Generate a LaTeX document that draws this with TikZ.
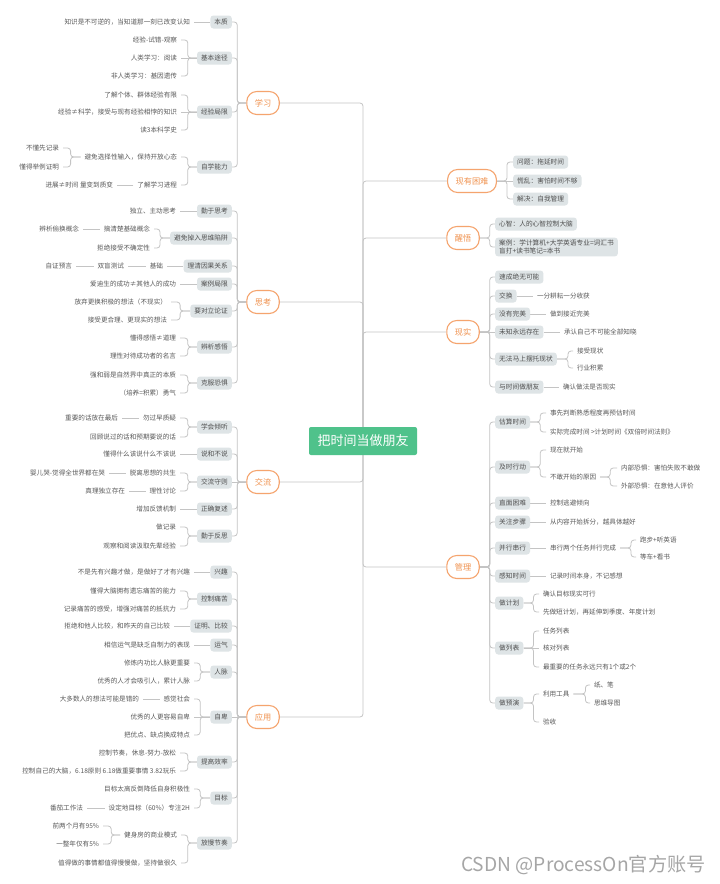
\documentclass[tikz,border=0pt]{standalone}
\usepackage{fontspec}
\setmainfont{Noto Sans CJK SC}
\usetikzlibrary{backgrounds}
\definecolor{orB}{HTML}{F5A46E}
\definecolor{orT}{HTML}{F0924F}
\definecolor{gfill}{HTML}{DEE4E6}
\definecolor{gtext}{HTML}{4F4F4F}
\definecolor{ltext}{HTML}{595959}
\definecolor{lgray}{HTML}{C4C4C4}
\definecolor{rootg}{HTML}{4FC28B}
\definecolor{wmark}{HTML}{A6A6A6}
\newcommand\BrL[3][10]{\draw[conn] (#2.west) -- ++(-#1,0) |- (#3.east);}
\newcommand\BrR[3][10]{\draw[conn] (#2.east) -- ++(#1,0) |- (#3.west);}
\newcommand\StL[2]{\draw[conn] (#1.west) -- (#2.east);}
\newcommand\StR[2]{\draw[conn] (#1.east) -- (#2.west);}
\newcommand\RtL[1]{\draw[conn] (root.center) |- (#1.east);}
\newcommand\RtR[1]{\draw[conn] (root.center) |- (#1.west);}
\begin{document}
\begin{tikzpicture}[x=1pt,y=-1pt,
 rootn/.style={fill=rootg, text=white, rounded corners=2pt, minimum width=108pt, minimum height=28pt, inner sep=0pt, font=\fontsize{13}{15}\selectfont},
 mainb/.style={draw=orB, line width=1.1pt, fill=white, text=orT, rounded corners=10pt, minimum height=23pt, inner xsep=8pt, inner ysep=0pt, font=\fontsize{8.2}{10}\selectfont},
 sub/.style={fill=gfill, text=gtext, rounded corners=3pt, minimum height=13pt, inner xsep=4pt, inner ysep=0pt, font=\fontsize{6.7}{8.5}\selectfont},
 subL/.style={sub, anchor=east},
 subR/.style={sub, anchor=west},
 leaf/.style={text=ltext, inner xsep=0pt, inner ysep=1pt, outer xsep=4pt, outer ysep=0pt, font=\fontsize{6.6}{8}\selectfont},
 leafL/.style={leaf, anchor=east},
 leafR/.style={leaf, anchor=west},
 conn/.style={draw=lgray, line width=0.8pt, rounded corners=3pt}]
\useasboundingbox (0,0) rectangle (720,884);

\node[rootn] (root) at (363,441) {把时间当做朋友};

% ===== 学习 =====
\node[mainb] (xx) at (263,103) {学习};
\node[subL] (xx1) at (232,22) {本质};
\node[leafL] (xx1a) at (194,22) {知识是不可逆的，当知道那一刻已改变认知};
\node[subL] (xx2) at (232,58) {基本途径};
\node[leafL] (xx2a) at (181,40) {经验-试错-观察};
\node[leafL] (xx2b) at (181,58) {人类学习：阅读};
\node[leafL] (xx2c) at (181,76) {非人类学习：基因遗传};
\node[subL] (xx3) at (232,112) {经验局限};
\node[leafL] (xx3a) at (181,95) {了解个体、群体经验有限};
\node[leafL] (xx3b) at (181,112) {经验≠科学，接受与现有经验相悖的知识};
\node[leafL] (xx3c) at (181,130) {读3本科学史};
\node[subL] (xx4) at (232,167) {自学能力};
\node[leafL] (xx4a) at (181,157) {避免选择性输入，保持开放心态};
\node[leafL] (xx4b) at (181,185) {了解学习进程};
\node[leafL] (xx4a1) at (63,148) {不懂先记录};
\node[leafL] (xx4a2) at (63,167) {懂得举例证明};
\node[leafL] (xx4b1) at (117,185) {进展≠时间 量变到质变};

% ===== 思考 =====
\node[mainb] (sk) at (263,302) {思考};
\node[subL] (sk1) at (232,211) {勤于思考};
\node[leafL] (sk1a) at (180,211) {独立、主动思考};
\node[subL] (sk2) at (232,238) {避免掉入思维陷阱};
\node[leafL] (sk2a) at (154,229) {搞清楚基础概念};
\node[leafL] (sk2b) at (154,248) {拒绝接受不确定性};
\node[leafL] (sk2a1) at (83,229) {辨析偷换概念};
\node[subL] (sk3) at (232,266) {理清因果关系};
\node[leafL] (sk3a) at (167,266) {基础};
\node[leafL] (sk3b) at (128,266) {双盲测试};
\node[leafL] (sk3c) at (76,266) {自证预言};
\node[subL] (sk4) at (232,284) {案例局限};
\node[leafL] (sk4a) at (180,284) {爱迪生的成功≠其他人的成功};
\node[subL] (sk5) at (232,311) {要对立论证};
\node[leafL] (sk5a) at (171,302) {放弃更换积极的想法（不现实）};
\node[leafL] (sk5b) at (171,320) {接受更合理、更现实的想法};
\node[subL] (sk6) at (232,347) {辨析感悟};
\node[leafL] (sk6a) at (180,338) {懂得感悟≠道理};
\node[leafL] (sk6b) at (180,356) {理性对待成功者的名言};
\node[subL] (sk7) at (232,383) {克服恐惧};
\node[leafL] (sk7a) at (180,375) {强和弱是自然界中真正的本质};
\node[leafL] (sk7b) at (180,393) {（培养=积累）勇气};

% ===== 交流 =====
\node[mainb] (jl) at (263,482) {交流};
\node[subL] (jl1) at (232,427) {学会倾听};
\node[leafL] (jl1a) at (180,418) {勿过早质疑};
\node[leafL] (jl1b) at (180,437) {回顾说过的话和预期要说的话};
\node[leafL] (jl1a1) at (122,418) {重要的话放在最后};
\node[subL] (jl2) at (232,454) {说和不说};
\node[leafL] (jl2a) at (180,454) {懂得什么该说什么不该说};
\node[subL] (jl3) at (232,482) {交流守则};
\node[leafL] (jl3a) at (180,473) {脱离思想的共生};
\node[leafL] (jl3b) at (180,491) {理性讨论};
\node[leafL] (jl3a1) at (109,473) {婴儿哭-觉得全世界都在哭};
\node[leafL] (jl3b1) at (129,491) {真理独立存在};
\node[subL] (jl4) at (232,509) {正确复述};
\node[leafL] (jl4a) at (180,509) {增加反馈机制};
\node[subL] (jl5) at (232,536) {勤于反思};
\node[leafL] (jl5a) at (180,527) {做记录};
\node[leafL] (jl5b) at (180,546) {观察和阅读汲取先辈经验};

% ===== 应用 =====
\node[mainb] (yy) at (263,717) {应用};
\node[subL] (yy1) at (232,572) {兴趣};
\node[leafL] (yy1a) at (194,572) {不是先有兴趣才做，是做好了才有兴趣};
\node[subL] (yy2) at (232,599) {控制痛苦};
\node[leafL] (yy2a) at (180,591) {懂得大脑拥有遗忘痛苦的能力};
\node[leafL] (yy2b) at (180,609) {记录痛苦的感受，增强对痛苦的抵抗力};
\node[subL] (yy3) at (232,626) {证明、比较};
\node[leafL] (yy3a) at (174,626) {拒绝和他人比较，和昨天的自己比较};
\node[subL] (yy4) at (232,645) {运气};
\node[leafL] (yy4a) at (194,645) {相信运气是缺乏自制力的表现};
\node[subL] (yy5) at (232,672) {人脉};
\node[leafL] (yy5a) at (194,663) {修炼内功比人脉更重要};
\node[leafL] (yy5b) at (194,681) {优秀的人才会吸引人，累计人脉};
\node[subL] (yy6) at (232,717) {自卑};
\node[leafL] (yy6a) at (194,699) {感觉社会};
\node[leafL] (yy6b) at (194,717) {优秀的人更容易自卑};
\node[leafL] (yy6c) at (194,735) {把优点、缺点换成特点};
\node[leafL] (yy6a1) at (143,699) {大多数人的想法可能是错的};
\node[subL] (yy7) at (232,762) {提高效率};
\node[leafL] (yy7a) at (180,753) {控制节奏，休息-努力-放松};
\node[leafL] (yy7b) at (180,771) {控制自己的大脑，6.18原则 6.18做重要事情 3.82玩乐};
\node[subL] (yy8) at (232,798) {目标};
\node[leafL] (yy8a) at (194,789) {目标太高反倒降低自身积极性};
\node[leafL] (yy8b) at (194,808) {设定地目标（60\%）专注2H};
\node[leafL] (yy8b1) at (87,808) {番茄工作法};
\node[subL] (yy9) at (232,843) {放慢节奏};
\node[leafL] (yy9a) at (181,835) {健身房的商业模式};
\node[leafL] (yy9b) at (181,863) {值得做的事情都值得慢慢做，坚持做很久};
\node[leafL] (yy9a1) at (103,826) {前两个月有95\%};
\node[leafL] (yy9a2) at (103,844) {一整年仅有5\%};

% ===== 现有困难 =====
\node[mainb] (xk) at (472,181) {现有困难};
\node[subR] (xk1) at (513,162) {问题：拖延时间};
\node[subR] (xk2) at (513,181) {慌乱：害怕时间不够};
\node[subR] (xk3) at (513,199) {解决：自我管理};

% ===== 醒悟 =====
\node[mainb] (xw) at (463,238) {醒悟};
\node[subR] (xw1) at (495,224) {心智：人的心智控制大脑};
\node[subR, align=left, inner ysep=2pt] (xw2) at (495,247) {案例：学计算机+大学英语专业=词汇书\\盲打+读书笔记=本书};

% ===== 现实 =====
\node[mainb] (xs) at (463,332) {现实};
\node[subR] (xs1) at (495,277) {速成绝无可能};
\node[subR] (xs2) at (495,296) {交换};
\node[leafR] (xs2a) at (533,296) {一分耕耘一分收获};
\node[subR] (xs3) at (495,314) {没有完美};
\node[leafR] (xs3a) at (546,314) {做到接近完美};
\node[subR] (xs4) at (495,332) {未知永远存在};
\node[leafR] (xs4a) at (560,332) {承认自己不可能全部知晓};
\node[subR] (xs5) at (495,359) {无法马上摆托现状};
\node[leafR] (xs5a) at (573,351) {接受现状};
\node[leafR] (xs5b) at (573,368) {行业积累};
\node[subR] (xs6) at (495,387) {与时间做朋友};
\node[leafR] (xs6a) at (559,387) {确认做法是否现实};

% ===== 管理 =====
\node[mainb] (gl) at (463,567) {管理};
\node[subR] (gl1) at (495,422) {估算时间};
\node[leafR] (gl1a) at (546,413) {事先判断熟悉程度再预估时间};
\node[leafR] (gl1b) at (546,432) {实际完成时间 >计划时间《双倍时间法则》};
\node[subR] (gl2) at (495,467) {及时行动};
\node[leafR] (gl2a) at (546,450) {现在就开始};
\node[leafR] (gl2b) at (546,477) {不敢开始的原因};
\node[leafR] (gl2b1) at (617,468) {内部恐惧：害怕失败不敢做};
\node[leafR] (gl2b2) at (617,486) {外部恐惧：在意他人评价};
\node[subR] (gl3) at (495,503) {直面困难};
\node[leafR] (gl3a) at (546,503) {控制逃避倾向};
\node[subR] (gl4) at (495,522) {关注步骤};
\node[leafR] (gl4a) at (546,522) {从内容开始拆分，越具体越好};
\node[subR] (gl5) at (495,548) {并行串行};
\node[leafR] (gl5a) at (546,548) {串行两个任务并行完成};
\node[leafR] (gl5a1) at (636,540) {跑步+听英语};
\node[leafR] (gl5a2) at (636,557) {等车+看书};
\node[subR] (gl6) at (495,576) {感知时间};
\node[leafR] (gl6a) at (546,576) {记录时间本身，不记感想};
\node[subR] (gl7) at (495,603) {做计划};
\node[leafR] (gl7a) at (539,594) {确认目标现实可行};
\node[leafR] (gl7b) at (539,612) {先做短计划，再延伸到季度、年度计划};
\node[subR] (gl8) at (495,648) {做列表};
\node[leafR] (gl8a) at (539,631) {任务列表};
\node[leafR] (gl8b) at (539,648) {核对列表};
\node[leafR] (gl8c) at (539,667) {最重要的任务永远只有1个或2个};
\node[subR] (gl9) at (495,703) {做预演};
\node[leafR] (gl9a) at (539,694) {利用工具};
\node[leafR] (gl9b) at (539,722) {验收};
\node[leafR] (gl9a1) at (590,685) {纸、笔};
\node[leafR] (gl9a2) at (590,703) {思维导图};

% watermark
\node[anchor=west, text=wmark, inner sep=0pt, font=\fontsize{19.2}{21}\selectfont] (wm) at (461,865) {CSDN @ProcessOn官方账号};

\begin{scope}[on background layer]
\fill[white] (0,0) rectangle (720,884);
% root
\RtL{xx} \RtL{sk} \RtL{jl} \RtL{yy}
\RtR{xk} \RtR{xw} \RtR{xs} \RtR{gl}
% 学习
\BrL[9]{xx}{xx1} \BrL[9]{xx}{xx2} \BrL[9]{xx}{xx3} \BrL[9]{xx}{xx4}
\StL{xx1}{xx1a}
\BrL[9]{xx2}{xx2a} \StL{xx2}{xx2b} \BrL[9]{xx2}{xx2c}
\BrL[9]{xx3}{xx3a} \StL{xx3}{xx3b} \BrL[9]{xx3}{xx3c}
\BrL[9]{xx4}{xx4a} \BrL[9]{xx4}{xx4b}
\BrL{xx4a}{xx4a1} \BrL{xx4a}{xx4a2}
\StL{xx4b}{xx4b1}
% 思考
\BrL[9]{sk}{sk1} \BrL[9]{sk}{sk2} \BrL[9]{sk}{sk3} \BrL[9]{sk}{sk4}
\BrL[9]{sk}{sk5} \BrL[9]{sk}{sk6} \BrL[9]{sk}{sk7}
\StL{sk1}{sk1a}
\BrL{sk2}{sk2a} \BrL{sk2}{sk2b} \StL{sk2a}{sk2a1}
\StL{sk3}{sk3a} \StL{sk3a}{sk3b} \StL{sk3b}{sk3c}
\StL{sk4}{sk4a}
\BrL{sk5}{sk5a} \BrL{sk5}{sk5b}
\BrL[9]{sk6}{sk6a} \BrL[9]{sk6}{sk6b}
\BrL[9]{sk7}{sk7a} \BrL[9]{sk7}{sk7b}
% 交流
\BrL[9]{jl}{jl1} \BrL[9]{jl}{jl2} \StL{jl}{jl3} \BrL[9]{jl}{jl4} \BrL[9]{jl}{jl5}
\BrL[9]{jl1}{jl1a} \BrL[9]{jl1}{jl1b} \StL{jl1a}{jl1a1}
\StL{jl2}{jl2a}
\BrL[9]{jl3}{jl3a} \BrL[9]{jl3}{jl3b} \StL{jl3a}{jl3a1} \StL{jl3b}{jl3b1}
\StL{jl4}{jl4a}
\BrL[9]{jl5}{jl5a} \BrL[9]{jl5}{jl5b}
% 应用
\BrL[9]{yy}{yy1} \BrL[9]{yy}{yy2} \BrL[9]{yy}{yy3} \BrL[9]{yy}{yy4} \BrL[9]{yy}{yy5}
\StL{yy}{yy6} \BrL[9]{yy}{yy7} \BrL[9]{yy}{yy8} \BrL[9]{yy}{yy9}
\StL{yy1}{yy1a}
\BrL[9]{yy2}{yy2a} \BrL[9]{yy2}{yy2b}
\StL{yy3}{yy3a}
\StL{yy4}{yy4a}
\BrL{yy5}{yy5a} \BrL{yy5}{yy5b}
\BrL{yy6}{yy6a} \StL{yy6}{yy6b} \BrL{yy6}{yy6c} \StL{yy6a}{yy6a1}
\BrL[9]{yy7}{yy7a} \BrL[9]{yy7}{yy7b}
\BrL{yy8}{yy8a} \BrL{yy8}{yy8b} \StL{yy8b}{yy8b1}
\BrL[9]{yy9}{yy9a} \BrL[9]{yy9}{yy9b}
\BrL[9]{yy9a}{yy9a1} \BrL[9]{yy9a}{yy9a2}
% 现有困难
\BrR{xk}{xk1} \StR{xk}{xk2} \BrR{xk}{xk3}
% 醒悟
\BrR{xw}{xw1} \BrR{xw}{xw2}
% 现实
\BrR{xs}{xs1} \BrR{xs}{xs2} \BrR{xs}{xs3} \StR{xs}{xs4} \BrR{xs}{xs5} \BrR{xs}{xs6}
\StR{xs2}{xs2a} \StR{xs3}{xs3a} \StR{xs4}{xs4a}
\BrR[11]{xs5}{xs5a} \BrR[11]{xs5}{xs5b}
\StR{xs6}{xs6a}
% 管理
\BrR{gl}{gl1} \BrR{gl}{gl2} \BrR{gl}{gl3} \BrR{gl}{gl4} \BrR{gl}{gl5}
\BrR{gl}{gl6} \BrR{gl}{gl7} \BrR{gl}{gl8} \BrR{gl}{gl9}
\BrR{gl1}{gl1a} \BrR{gl1}{gl1b}
\BrR{gl2}{gl2a} \BrR{gl2}{gl2b}
\BrR{gl2b}{gl2b1} \BrR{gl2b}{gl2b2}
\StR{gl3}{gl3a} \StR{gl4}{gl4a}
\StR{gl5}{gl5a}
\BrR[11]{gl5a}{gl5a1} \BrR[11]{gl5a}{gl5a2}
\StR{gl6}{gl6a}
\BrR{gl7}{gl7a} \BrR{gl7}{gl7b}
\BrR{gl8}{gl8a} \StR{gl8}{gl8b} \BrR{gl8}{gl8c}
\BrR{gl9}{gl9a} \BrR{gl9}{gl9b}
\BrR[12]{gl9a}{gl9a1} \BrR[12]{gl9a}{gl9a2}
\end{scope}
\end{tikzpicture}
\end{document}
